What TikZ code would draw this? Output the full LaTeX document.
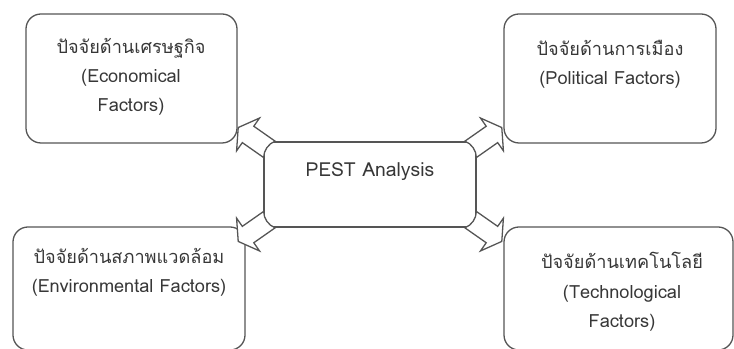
\documentclass[tikz,border=0pt]{standalone}
\usepackage{fontspec}
\usepackage{tikz}
\usetikzlibrary{calc}
\newfontfamily\thaifont[Script=Thai]{Loma}
\definecolor{boxline}{RGB}{85,85,85}
\definecolor{boxtext}{RGB}{55,55,55}
\tikzset{
  factorbox/.style={draw=boxline, line width=1.1pt, rounded corners=0.45cm, inner sep=0pt},
  pestbox/.style={draw=boxline, line width=1.1pt, inner sep=0pt},
  factortext/.style={font=\thaifont\fontsize{15.5}{25}\selectfont, text=boxtext, align=center, inner sep=0pt},
  blockarrow/.style={draw=boxline, fill=white, line width=1.1pt, line join=miter}
}

\begin{document}
\begin{tikzpicture}[x=0.03cm, y=0.03cm]
  \useasboundingbox (0,0) rectangle (734,349);
  \node[factorbox, minimum width=6.33cm, minimum height=3.87cm] (econ) at (131.5,270.5) {};
  \node[factorbox, minimum width=6.36cm, minimum height=3.87cm] (pol) at (610,270.5) {};
  \node[factorbox, minimum width=6.96cm, minimum height=3.69cm] (env) at (129,60.5) {};
  \node[factorbox, minimum width=6.87cm, minimum height=3.69cm] (tech) at (618.5,60.5) {};
  \node[pestbox, minimum width=6.36cm, minimum height=2.55cm] (pest) at (370,164.5) {};

  \node[factortext] (econtxt) at (131,272) {ปัจจัยด้านเศรษฐกิจ\\(Economical\\Factors)};
  \node[factortext] (poltxt) at (610,285) {ปัจจัยด้านการเมือง\\(Political Factors)};
  \node[factortext] (envtxt) at (129,77) {ปัจจัยด้านสภาพแวดล้อม\\(Environmental Factors)};
  \node[factortext] (techtxt) at (622,57) {ปัจจัยด้านเทคโนโลยี\\(Technological\\Factors)};
  \node[factortext, font=\thaifont\fontsize{16.5}{20}\selectfont] (pesttxt) at (370,177) {PEST Analysis};

  \foreach \c/\dx/\dy/\a in {north west/6/-8/145, north east/-6/-8/35,
                             south west/6/8/215, south east/-6/8/-35}{
    \draw[blockarrow, shift={($(pest.\c)+(\dx,\dy)$)}, rotate=\a]
      (0,10) .. controls (4,4) and (4,-4) .. (0,-10) -- (26,-10) -- (26,-20)
      -- (38,0) -- (26,20) -- (26,10) -- cycle;
  }
\end{tikzpicture}
\end{document}
